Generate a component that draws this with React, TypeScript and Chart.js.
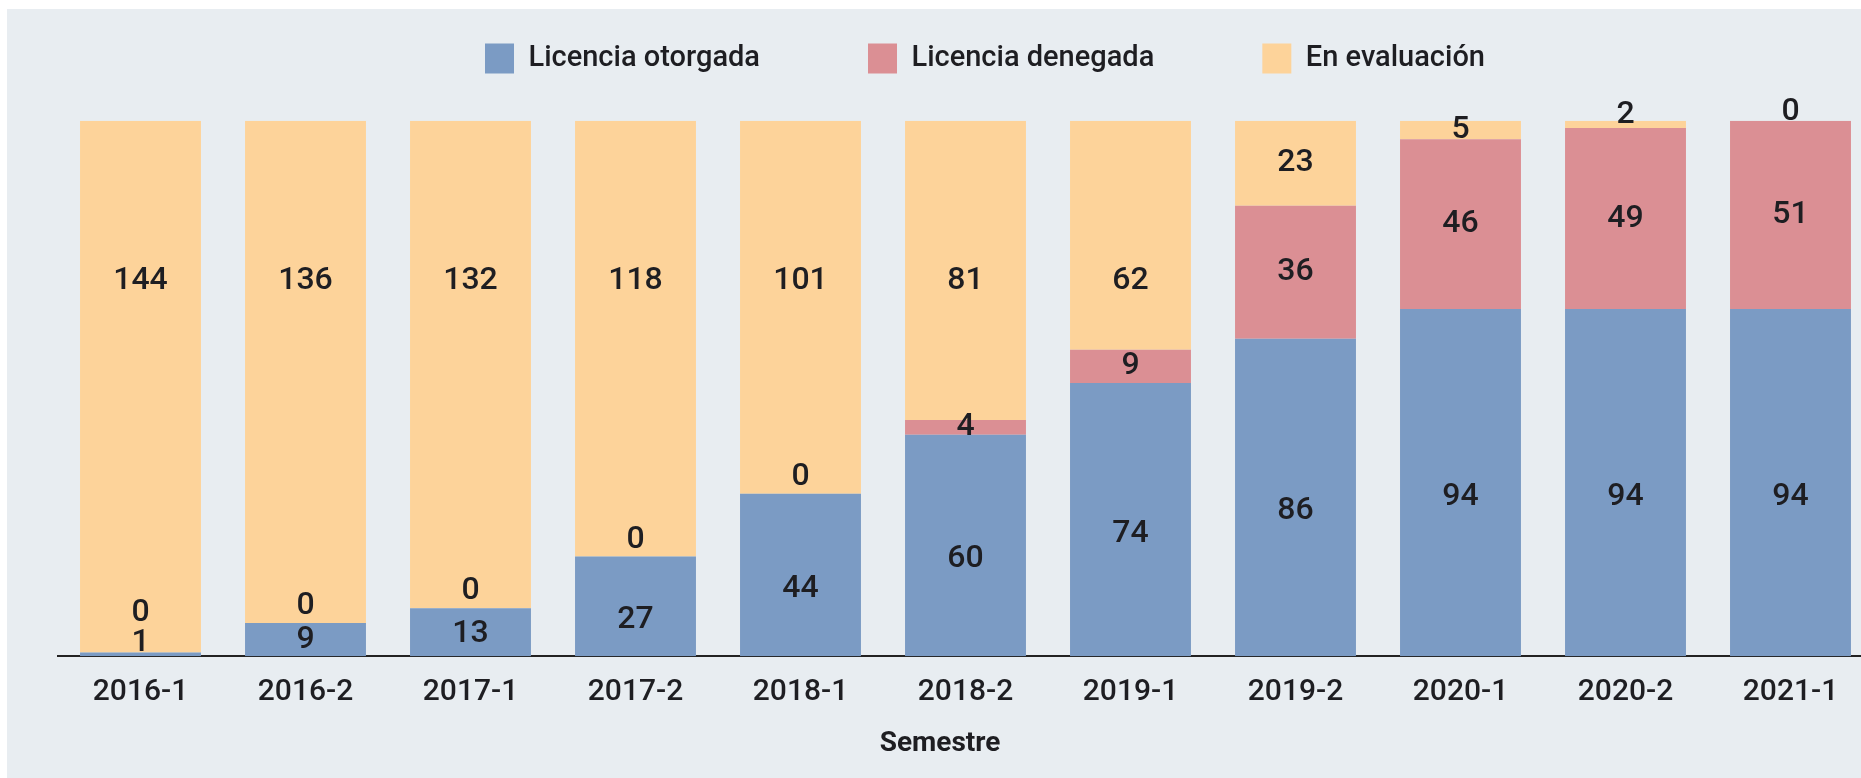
import React, { useEffect, useRef } from "react";
import { Chart, registerables } from "chart.js";

Chart.register(...registerables);

const semesters = ["2016-1", "2016-2", "2017-1", "2017-2", "2018-1", "2018-2", "2019-1", "2019-2", "2020-1", "2020-2", "2021-1"];
const otorgada = [1, 9, 13, 27, 44, 60, 74, 86, 94, 94, 94];
const denegada = [0, 0, 0, 0, 0, 4, 9, 36, 46, 49, 51];
const evaluacion = [144, 136, 132, 118, 101, 81, 62, 23, 5, 2, 0];
const seriesNames = ["Licencia otorgada", "Licencia denegada", "En evaluación"];
const axisTitle = "Semestre";
const yMax = 145;

const COLORS = ["#7b9bc4", "#db8f94", "#fdd39a"];
const FONT = "Roboto, 'Noto Sans', sans-serif";
const TEXT = "#1e1e22";

const segmentLabels = {
  id: "segmentLabels",
  afterDatasetsDraw(chart: any) {
    const ctx = chart.ctx;
    const area = chart.chartArea;
    const chartH = area.bottom - area.top;
    const last = chart.data.datasets.length - 1;
    ctx.save();
    ctx.font = `500 32px ${FONT}`;
    ctx.fillStyle = TEXT;
    ctx.textAlign = "center";
    ctx.textBaseline = "middle";
    const n = chart.data.labels.length;
    for (let i = 0; i < n; i++) {
      let prev = Infinity;
      chart.data.datasets.forEach((ds: any, di: number) => {
        const el = chart.getDatasetMeta(di).data[i];
        if (!el) return;
        const top = Math.min(el.y, el.base);
        const base = Math.max(el.y, el.base);
        const h = base - top;
        const mid = (top + base) / 2;
        let cy: number;
        if (di === 0) {
          cy = h >= 40 ? Math.min(mid + 14, base - 22) : Math.min(mid, base - 13);
        } else if (h < 10) {
          cy = mid - (di === last ? 9 : 17);
        } else if (di === last && h > 0.4 * chartH) {
          cy = top + 0.3 * chartH;
        } else {
          cy = mid;
        }
        cy = Math.min(cy, prev - 30);
        ctx.fillText(String(ds.data[i]), el.x, cy);
        prev = cy;
      });
    }
    ctx.restore();
  },
};

const legendAndTitle = {
  id: "legendAndTitle",
  afterDraw(chart: any) {
    const ctx = chart.ctx;
    ctx.save();
    // legend
    ctx.font = `500 29px ${FONT}`;
    ctx.textBaseline = "middle";
    ctx.textAlign = "left";
    const boxW = 29;
    const boxH = 30;
    const gap = 14.5;
    const spacing = 108;
    const items = chart.data.datasets.map((ds: any) => ({
      text: ds.label,
      color: ds.backgroundColor,
      w: ctx.measureText(ds.label).width,
    }));
    const total =
      items.reduce((s: number, it: any) => s + boxW + gap + it.w, 0) + spacing * (items.length - 1);
    const cx = 978;
    const cy = 49.5;
    let x = cx - total / 2;
    items.forEach((it: any) => {
      ctx.fillStyle = it.color;
      ctx.fillRect(x, cy - boxH / 2, boxW, boxH);
      ctx.fillStyle = TEXT;
      ctx.fillText(it.text, x + boxW + gap, cy);
      x += boxW + gap + it.w + spacing;
    });
    // axis title
    ctx.font = `bold 28px ${FONT}`;
    ctx.textAlign = "center";
    ctx.fillStyle = TEXT;
    ctx.fillText(axisTitle, 933, 734.5);
    ctx.restore();
  },
};

export default function App() {
  const ref = useRef<HTMLCanvasElement | null>(null);

  useEffect(() => {
    if (!ref.current) return;
    const values = [otorgada, denegada, evaluacion];
    const chart = new Chart(ref.current, {
      type: "bar",
      data: {
        labels: semesters,
        datasets: values.map((d, i) => ({
          label: seriesNames[i],
          data: d,
          backgroundColor: COLORS[i],
          borderWidth: 0,
          barPercentage: 0.733,
          categoryPercentage: 1,
        })),
      },
      options: {
        responsive: false,
        animation: false,
        layout: { padding: { top: 111.7, left: 51, right: 34, bottom: 49.7 } },
        plugins: {
          legend: { display: false },
          tooltip: { enabled: false },
          title: { display: false },
        },
        scales: {
          x: {
            stacked: true,
            grid: { display: false, drawTicks: false },
            border: { display: true, color: "#222", width: 2 },
            ticks: {
              padding: 18,
              color: TEXT,
              font: { family: FONT, size: 30, weight: "500" as any },
              maxRotation: 0,
              autoSkip: false,
            },
          },
          y: { stacked: true, display: false, min: 0, max: yMax },
        },
      },
      plugins: [segmentLabels, legendAndTitle],
    });
    return () => chart.destroy();
  }, []);

  return (
    <div
      style={{
        position: "fixed",
        left: 7,
        top: 9,
        width: 1854,
        height: 769,
        overflow: "hidden",
        background: "#e8edf1",
      }}
    >
      <canvas ref={ref} width={1900} height={769} style={{ display: "block" }} />
    </div>
  );
}
